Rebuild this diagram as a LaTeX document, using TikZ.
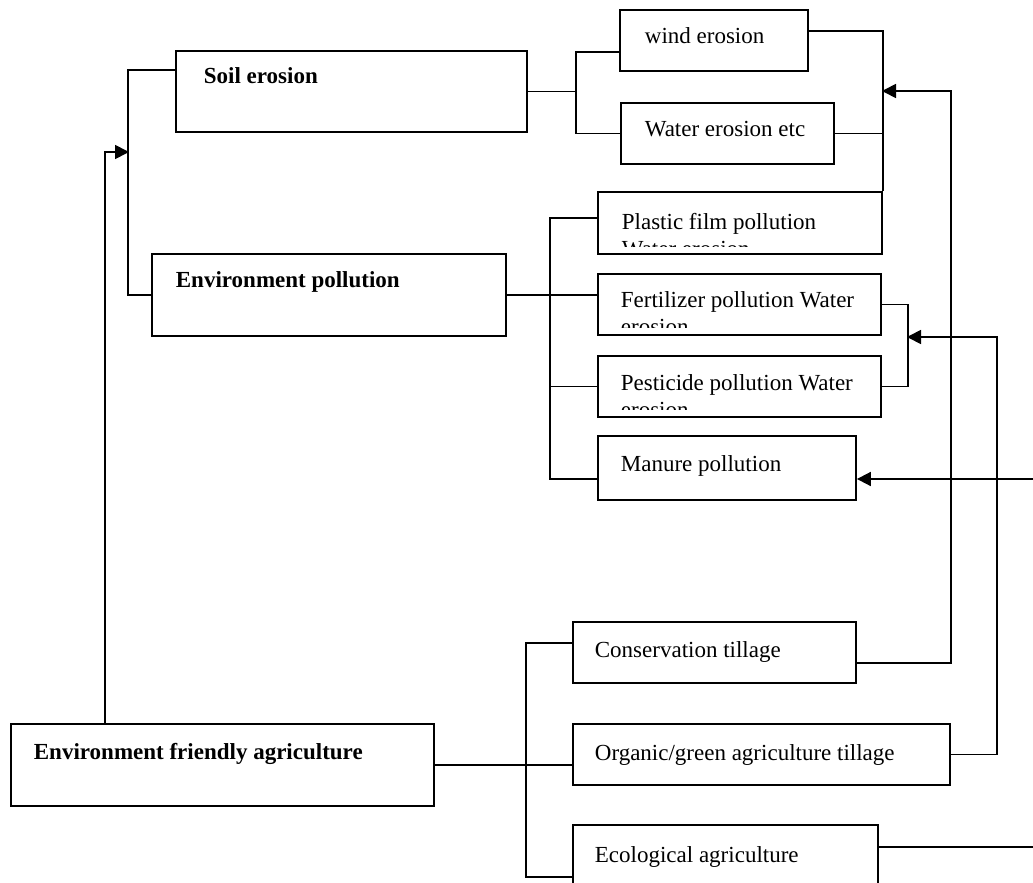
\documentclass[tikz,border=0pt]{standalone}
\usepackage{fontspec}
\setmainfont{Liberation Serif}
\usetikzlibrary{arrows.meta,calc,fit}

\begin{document}
\begin{tikzpicture}
[x=0.5pt,y=-0.5pt,
 line width=0.9pt,
 box/.style={draw, inner sep=0pt},
 txt/.style={anchor=base west, inner sep=0pt, font=\fontsize{11.5}{14}\selectfont},
 head/.style={txt, font=\fontsize{11.5}{14}\selectfont\bfseries},
 arr/.style={-{Triangle[length=7pt,width=7pt]}},
]
\useasboundingbox (0,0) rectangle (1033,883);

% left column
\node[box, fit={(176,51) (527,132)}] (soil) {};
\node[head] (soil-t) at (203,84) {Soil erosion};
\node[box, fit={(152,254) (506,336)}] (poll) {};
\node[head] (poll-t) at (175,287) {Environment pollution};
\node[box, fit={(11,724) (434,806)}] (efa) {};
\node[head] (efa-t) at (33,759) {Environment friendly agriculture};

% erosion kinds
\node[box, fit={(620,10) (808,71)}] (wind) {};
\node[txt] (wind-t) at (644,44) {wind erosion};
\node[box, fit={(621,103) (834,164)}] (water) {};
\node[txt] (water-t) at (644,137) {Water erosion etc};

% pollution kinds
\node[box, fit={(598,192) (882,254)}] (plastic) {};
\node[txt] (plastic-t) at (621,229) {Plastic film pollution};
\node[box, fit={(598,274) (881,335)}] (fert) {};
\node[txt] (fert-t) at (620,307) {Fertilizer pollution Water};
\node[box, fit={(598,356) (881,417)}] (pest) {};
\node[txt] (pest-t) at (620,390) {Pesticide pollution Water};
\node[box, fit={(598,436) (856,500)}] (manure) {};
\node[txt] (manure-t) at (620,471) {Manure pollution};

% second lines cut by the box margin
\begin{scope}
\clip (598,192) rectangle (882,246);
\node[txt] (plastic-t2) at (621,256) {Water erosion};
\end{scope}
\begin{scope}
\clip (598,274) rectangle (881,327);
\node[txt] (fert-t2) at (620,334) {erosion};
\end{scope}
\begin{scope}
\clip (598,356) rectangle (881,409);
\node[txt] (pest-t2) at (620,417) {erosion};
\end{scope}

% ways of farming
\node[box, fit={(573,622) (856,683)}] (cons) {};
\node[txt] (cons-t) at (594,657) {Conservation tillage};
\node[box, fit={(573,724) (950,785)}] (organic) {};
\node[txt] (organic-t) at (594,760) {Organic/green agriculture tillage};
\node[box, fit={(573,825) (878,895)}] (eco) {};
\node[txt] (eco-t) at (594,862) {Ecological agriculture};

\coordinate (spineA) at (129,152);
\coordinate (tipA) at (882,91);
\coordinate (tipB) at (907,337);
\coordinate (edgeM) at (1033,479);
\coordinate (edgeE) at (1033,847);

% brackets
\draw ($(soil.north west)+(0,20)$) -| ($(poll.west)+(-23,0)$) -- (poll.west);
\draw[arr] ($(efa.north west)+(95,0)$) |- (spineA);
\draw (soil.east) -- ++(48,0) coordinate (spineB);
\draw ($(wind.west)+(0,11.5)$) -| (spineB) |- (water.west);
\draw ($(wind.east)+(0,-9.5)$) -| (plastic.north east);
\draw (water.east) -- (water.east -| plastic.east);
\draw (poll.east) -- (fert.west |- poll.east);
\draw ($(plastic.west)+(0,-5)$) -| ++(-47,261) -- ++(47,0);
\draw (pest.west) -- ++(-47,0);
\draw (fert.east) -| ++(26,40) |- (pest.east);
\draw (efa.east) -- (efa.east -| organic.west);
\draw ($(cons.west)+(0,-9.5)$) -| ++(-46,234) -- ++(46,0);

% feedback arrows
\draw[arr] ($(cons.east)+(0,10.5)$) -| (organic.east |- tipA) -- (tipA);
\draw[arr] (organic.east) -- ++(46,0) |- (tipB);
\draw[arr] (edgeM) -- (edgeM -| manure.east);
\draw (eco.east |- edgeE) -- (edgeE);
\end{tikzpicture}
\end{document}
